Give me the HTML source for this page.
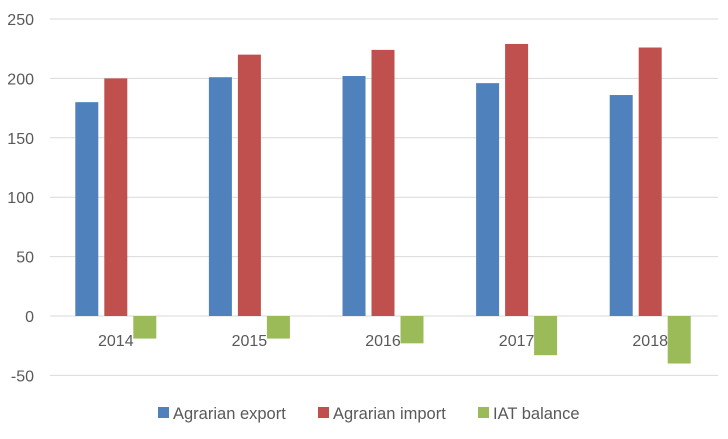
<!DOCTYPE html>
<html><head><meta charset="utf-8"><style>
body{margin:0;background:#fff;font-family:"Liberation Sans",sans-serif;}
svg text{font-family:"Liberation Sans",sans-serif;fill:#595959;}
</style></head><body>
<svg id="chart" width="728" height="434"></svg>
<script>
const categories=["2014","2015","2016","2017","2018"];
const exportVals=[180,201,202,196,186];
const importVals=[200,220,224,229,226];
const balanceVals=[-19,-19,-23,-33,-40];
const ticks=[-50,0,50,100,150,200,250];
const seriesNames=["Agrarian export","Agrarian import","IAT balance"];
const colors=["#4f81bd","#c0504d","#9bbb59"];
const svg=document.getElementById('chart');
const NS="http://www.w3.org/2000/svg";
const x0=50,x1=718,yTop=19,yBot=376;
const y=v=>316-(v)*(297/250);
const band=(x1-x0)/categories.length;
function mk(t,a){const e=document.createElementNS(NS,t);for(const k in a)e.setAttribute(k,a[k]);svg.appendChild(e);return e;}
ticks.forEach(t=>{
 const l=mk('line',{x1:x0,x2:x1,y1:y(t),y2:y(t),stroke:'#d9d9d9','stroke-width':1});
 
 
 const tx=mk('text',{x:34,y:y(t)+6,'text-anchor':'end','font-size':16});
 tx.textContent=t;
 
 
});
const series=[exportVals,importVals,balanceVals];
const bw=23,gap=6;
categories.forEach((c,i)=>{
 const cx=x0+band*(i+0.5)-1;
 series.forEach((s,j)=>{
  const bx=cx-bw*1.5-gap+j*(bw+gap);
  const v=s[i];
  const r=mk('rect',{x:bx,y:Math.min(y(v),y(0)),width:bw,height:Math.abs(y(v)-y(0)),fill:colors[j]});
  
  
 });
 const t=mk('text',{x:cx,y:346,'text-anchor':'middle','font-size':16});
 t.textContent=c;
 
 
});
const lx=[158,318,478];
seriesNames.forEach((n,j)=>{
 const r=mk('rect',{x:lx[j],y:407,width:11,height:11,fill:colors[j]});
 
 
 const t=mk('text',{x:lx[j]+15,y:419,'font-size':16.5});
 t.textContent=n;
 
 
});
</script>
</body></html>
